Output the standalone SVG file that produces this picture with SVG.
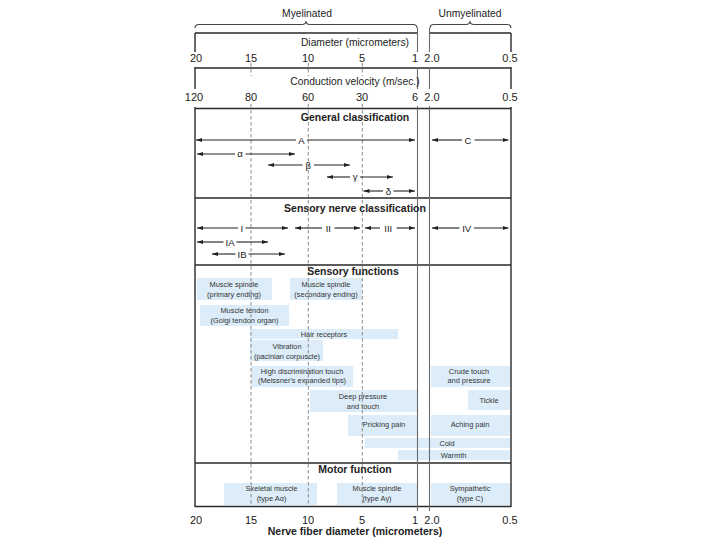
<svg xmlns="http://www.w3.org/2000/svg" width="720" height="540" viewBox="0 0 720 540">
<defs>
<marker id="ah" viewBox="0 0 10 10" refX="10" refY="5" markerWidth="6" markerHeight="6" orient="auto" markerUnits="userSpaceOnUse"><path d="M0,1.5 L10,5 L0,8.5 z" fill="#222"/></marker>
<style>
text{font-family:"Liberation Sans",Arial,sans-serif;fill:#222}
.hdr{font-size:10.3px;text-anchor:middle}
.num{font-size:11px;text-anchor:middle}
.ttl{font-size:10.5px;font-weight:bold;text-anchor:middle}
.lbl{font-size:9.5px;text-anchor:middle}
.bx{font-size:7.4px;text-anchor:middle;fill:#333}
.box{fill:#dcedf9}
.frame{stroke:#2a2a2a;stroke-width:1.4;fill:none}
.sep{stroke:#6a6a6a;stroke-width:1.1;fill:none}
.dash{stroke:#8a8a8a;stroke-width:1;stroke-dasharray:3.5 2.5;fill:none}
.arr{stroke:#222;stroke-width:1.1;fill:none;marker-end:url(#ah)}
.brace{stroke:#444;stroke-width:1.1;fill:none}
</style>
</defs>
<rect width="720" height="540" fill="#fff"/>

<!-- braces -->
<g id="myelinated">
<path class="brace" d="M195,28 Q195,24.5 199,24.5 L302,24.5 Q306,24.5 306,21 Q306,24.5 310,24.5 L413,24.5 Q417,24.5 417,28"/>
<text class="hdr" x="307" y="16.5">Myelinated</text>
</g>
<g id="unmyelinated">
<path class="brace" d="M430,28 Q430,24.5 434,24.5 L466,24.5 Q470,24.5 470,21 Q470,24.5 474,24.5 L507,24.5 Q511,24.5 511,28"/>
<text class="hdr" x="470" y="16.5">Unmyelinated</text>
</g>

<!-- function boxes -->
<g id="sensory-functions">
<g id="spindle-primary"><rect class="box" x="197" y="278" width="75" height="22"/><text class="bx" x="234" y="286.8">Muscle spindle</text><text class="bx" x="234" y="296.5">(primary ending)</text></g>
<g id="spindle-secondary"><rect class="box" x="290" y="278" width="72" height="22"/><text class="bx" x="326" y="286.8">Muscle spindle</text><text class="bx" x="326" y="296.5">(secondary ending)</text></g>
<g id="tendon"><rect class="box" x="200" y="305" width="89" height="21"/><text class="bx" x="244.5" y="313.2">Muscle tendon</text><text class="bx" x="244.5" y="323.2">(Golgi tendon organ)</text></g>
<g id="hair"><rect class="box" x="250" y="329" width="148" height="10"/><text class="bx" x="324" y="336.6">Hair receptors</text></g>
<g id="vibration"><rect class="box" x="250" y="340" width="73" height="21"/><text class="bx" x="287" y="348.5">Vibration</text><text class="bx" x="287" y="358.5">(pacinian corpuscle)</text></g>
<g id="meissner"><rect class="box" x="251" y="366" width="102" height="21"/><text class="bx" x="302" y="374.2">High discrimination touch</text><text class="bx" x="302" y="383.4">(Meissner's expanded tips)</text></g>
<g id="crude"><rect class="box" x="431" y="366" width="79" height="21"/><text class="bx" x="469" y="374.2">Crude touch</text><text class="bx" x="469" y="383.4">and pressure</text></g>
<g id="deep"><rect class="box" x="310" y="390" width="107" height="22"/><text class="bx" x="363" y="398.5">Deep pressure</text><text class="bx" x="363" y="408.5">and touch</text></g>
<g id="tickle"><rect class="box" x="468" y="390" width="42" height="20"/><text class="bx" x="489" y="402.5">Tickle</text></g>
<g id="pricking"><rect class="box" x="348" y="415" width="69" height="21"/><text class="bx" x="384" y="427">Pricking pain</text></g>
<g id="aching"><rect class="box" x="431" y="415" width="79" height="21"/><text class="bx" x="470" y="427">Aching pain</text></g>
<g id="cold"><rect class="box" x="365" y="438" width="145" height="10"/><text class="bx" x="447" y="445.6">Cold</text></g>
<g id="warmth"><rect class="box" x="398" y="450" width="112" height="10"/><text class="bx" x="453.5" y="457.6">Warmth</text></g>
</g>
<g id="motor-functions">
<g id="skeletal"><rect class="box" x="224" y="483" width="93" height="22"/><text class="bx" x="271.5" y="490.8">Skeletal muscle</text><text class="bx" x="271.5" y="500.8">(type Aα)</text></g>
<g id="motor-spindle"><rect class="box" x="337" y="483" width="80" height="22"/><text class="bx" x="377" y="490.8">Muscle spindle</text><text class="bx" x="377" y="500.8">(type Aγ)</text></g>
<g id="sympathetic"><rect class="box" x="431" y="483" width="79" height="22"/><text class="bx" x="470" y="490.8">Sympathetic</text><text class="bx" x="470" y="500.8">(type C)</text></g>
</g>

<!-- dashed guide lines -->
<g id="guides">
<path class="dash" d="M251,63 V76 M251,104 V507"/>
<path class="dash" d="M308.3,63 V76 M308.3,104 V507"/>
<path class="dash" d="M362.3,63 V76 M362.3,104 V507"/>
</g>

<!-- frame -->
<g id="frame">
<path class="frame" d="M195,33 H417.5 M429.5,33 H511 M195,68 H511 M195,108.5 H511 M195,198 H511 M195,265 H511 M195,463 H511 M195,506.5 H511"/>
<path class="frame" d="M195,33 V52 M195,67 V89 M195,107 V507 M511,33 V52 M511,67 V89 M511,107 V507"/>
<path class="sep" d="M417.5,28 V52 M417.5,67 V89 M417.5,106 V511 M429.5,28 V52 M429.5,67 V89 M429.5,106 V511"/>
</g>

<!-- scale rows -->
<g id="diameter-row">
<text class="hdr" x="355" y="45.5">Diameter (micrometers)</text>
<text class="num" x="196" y="62">20</text>
<text class="num" x="251" y="62">15</text>
<text class="num" x="308" y="62">10</text>
<text class="num" x="362" y="62">5</text>
<text class="num" x="415" y="62">1</text>
<text class="num" x="432" y="62">2.0</text>
<text class="num" x="510" y="62">0.5</text>
</g>
<g id="velocity-row">
<text class="hdr" x="355" y="84.5">Conduction velocity (m/sec.)</text>
<text class="num" x="194" y="101">120</text>
<text class="num" x="251" y="101">80</text>
<text class="num" x="308" y="101">60</text>
<text class="num" x="362" y="101">30</text>
<text class="num" x="415" y="101">6</text>
<text class="num" x="432" y="101">2.0</text>
<text class="num" x="510" y="101">0.5</text>
</g>

<!-- section titles -->
<text class="ttl" x="355" y="120.5">General classification</text>
<text class="ttl" x="355" y="211.5">Sensory nerve classification</text>
<text class="ttl" x="353" y="275">Sensory functions</text>
<text class="ttl" x="355" y="472.5">Motor function</text>

<!-- range connectors -->
<g id="connectors">
<g id="range-A"><path class="arr" d="M296,140 H196"/><path class="arr" d="M307,140 H415"/><text class="lbl" x="301.5" y="143.5">A</text></g>
<g id="range-C"><path class="arr" d="M462,140 H432"/><path class="arr" d="M474.5,140 H508.5"/><text class="lbl" x="468" y="143.5">C</text></g>
<g id="range-alpha"><path class="arr" d="M235,154 H197"/><path class="arr" d="M245.5,154 H295"/><text class="lbl" x="240" y="157">α</text></g>
<g id="range-beta"><path class="arr" d="M302.5,165 H268"/><path class="arr" d="M314,165 H350"/><text class="lbl" x="308.3" y="168.5">β</text></g>
<g id="range-gamma"><path class="arr" d="M350,177 H327"/><path class="arr" d="M360,177 H393"/><text class="lbl" x="355" y="180">γ</text></g>
<g id="range-delta"><path class="arr" d="M383,191 H363.5"/><path class="arr" d="M393.5,191 H415"/><text class="lbl" x="388.3" y="194.5">δ</text></g>
<g id="range-I"><path class="arr" d="M238,228 H197"/><path class="arr" d="M245.5,228 H288"/><text class="lbl" x="241.7" y="231.5">I</text></g>
<g id="range-II"><path class="arr" d="M322,228 H295"/><path class="arr" d="M334.5,228 H360"/><text class="lbl" x="328.3" y="231.5">II</text></g>
<g id="range-III"><path class="arr" d="M380,228 H365"/><path class="arr" d="M396.5,228 H415"/><text class="lbl" x="388.3" y="231.5">III</text></g>
<g id="range-IV"><path class="arr" d="M459.5,228 H432"/><path class="arr" d="M474,228 H508.5"/><text class="lbl" x="466.7" y="231.5">IV</text></g>
<g id="range-IA"><path class="arr" d="M223.5,242 H197"/><path class="arr" d="M236.5,242 H268"/><text class="lbl" x="230" y="245.5">IA</text></g>
<g id="range-IB"><path class="arr" d="M235.5,254 H212"/><path class="arr" d="M248.5,254 H285"/><text class="lbl" x="242" y="257.5">IB</text></g>
</g>

<!-- bottom axis -->
<g id="bottom-axis">
<text class="num" x="196" y="523.5">20</text>
<text class="num" x="251" y="523.5">15</text>
<text class="num" x="308" y="523.5">10</text>
<text class="num" x="362" y="523.5">5</text>
<text class="num" x="415" y="523.5">1</text>
<text class="num" x="432" y="523.5">2.0</text>
<text class="num" x="510" y="523.5">0.5</text>
<text class="ttl" x="355" y="535">Nerve fiber diameter (micrometers)</text>
</g>
</svg>
